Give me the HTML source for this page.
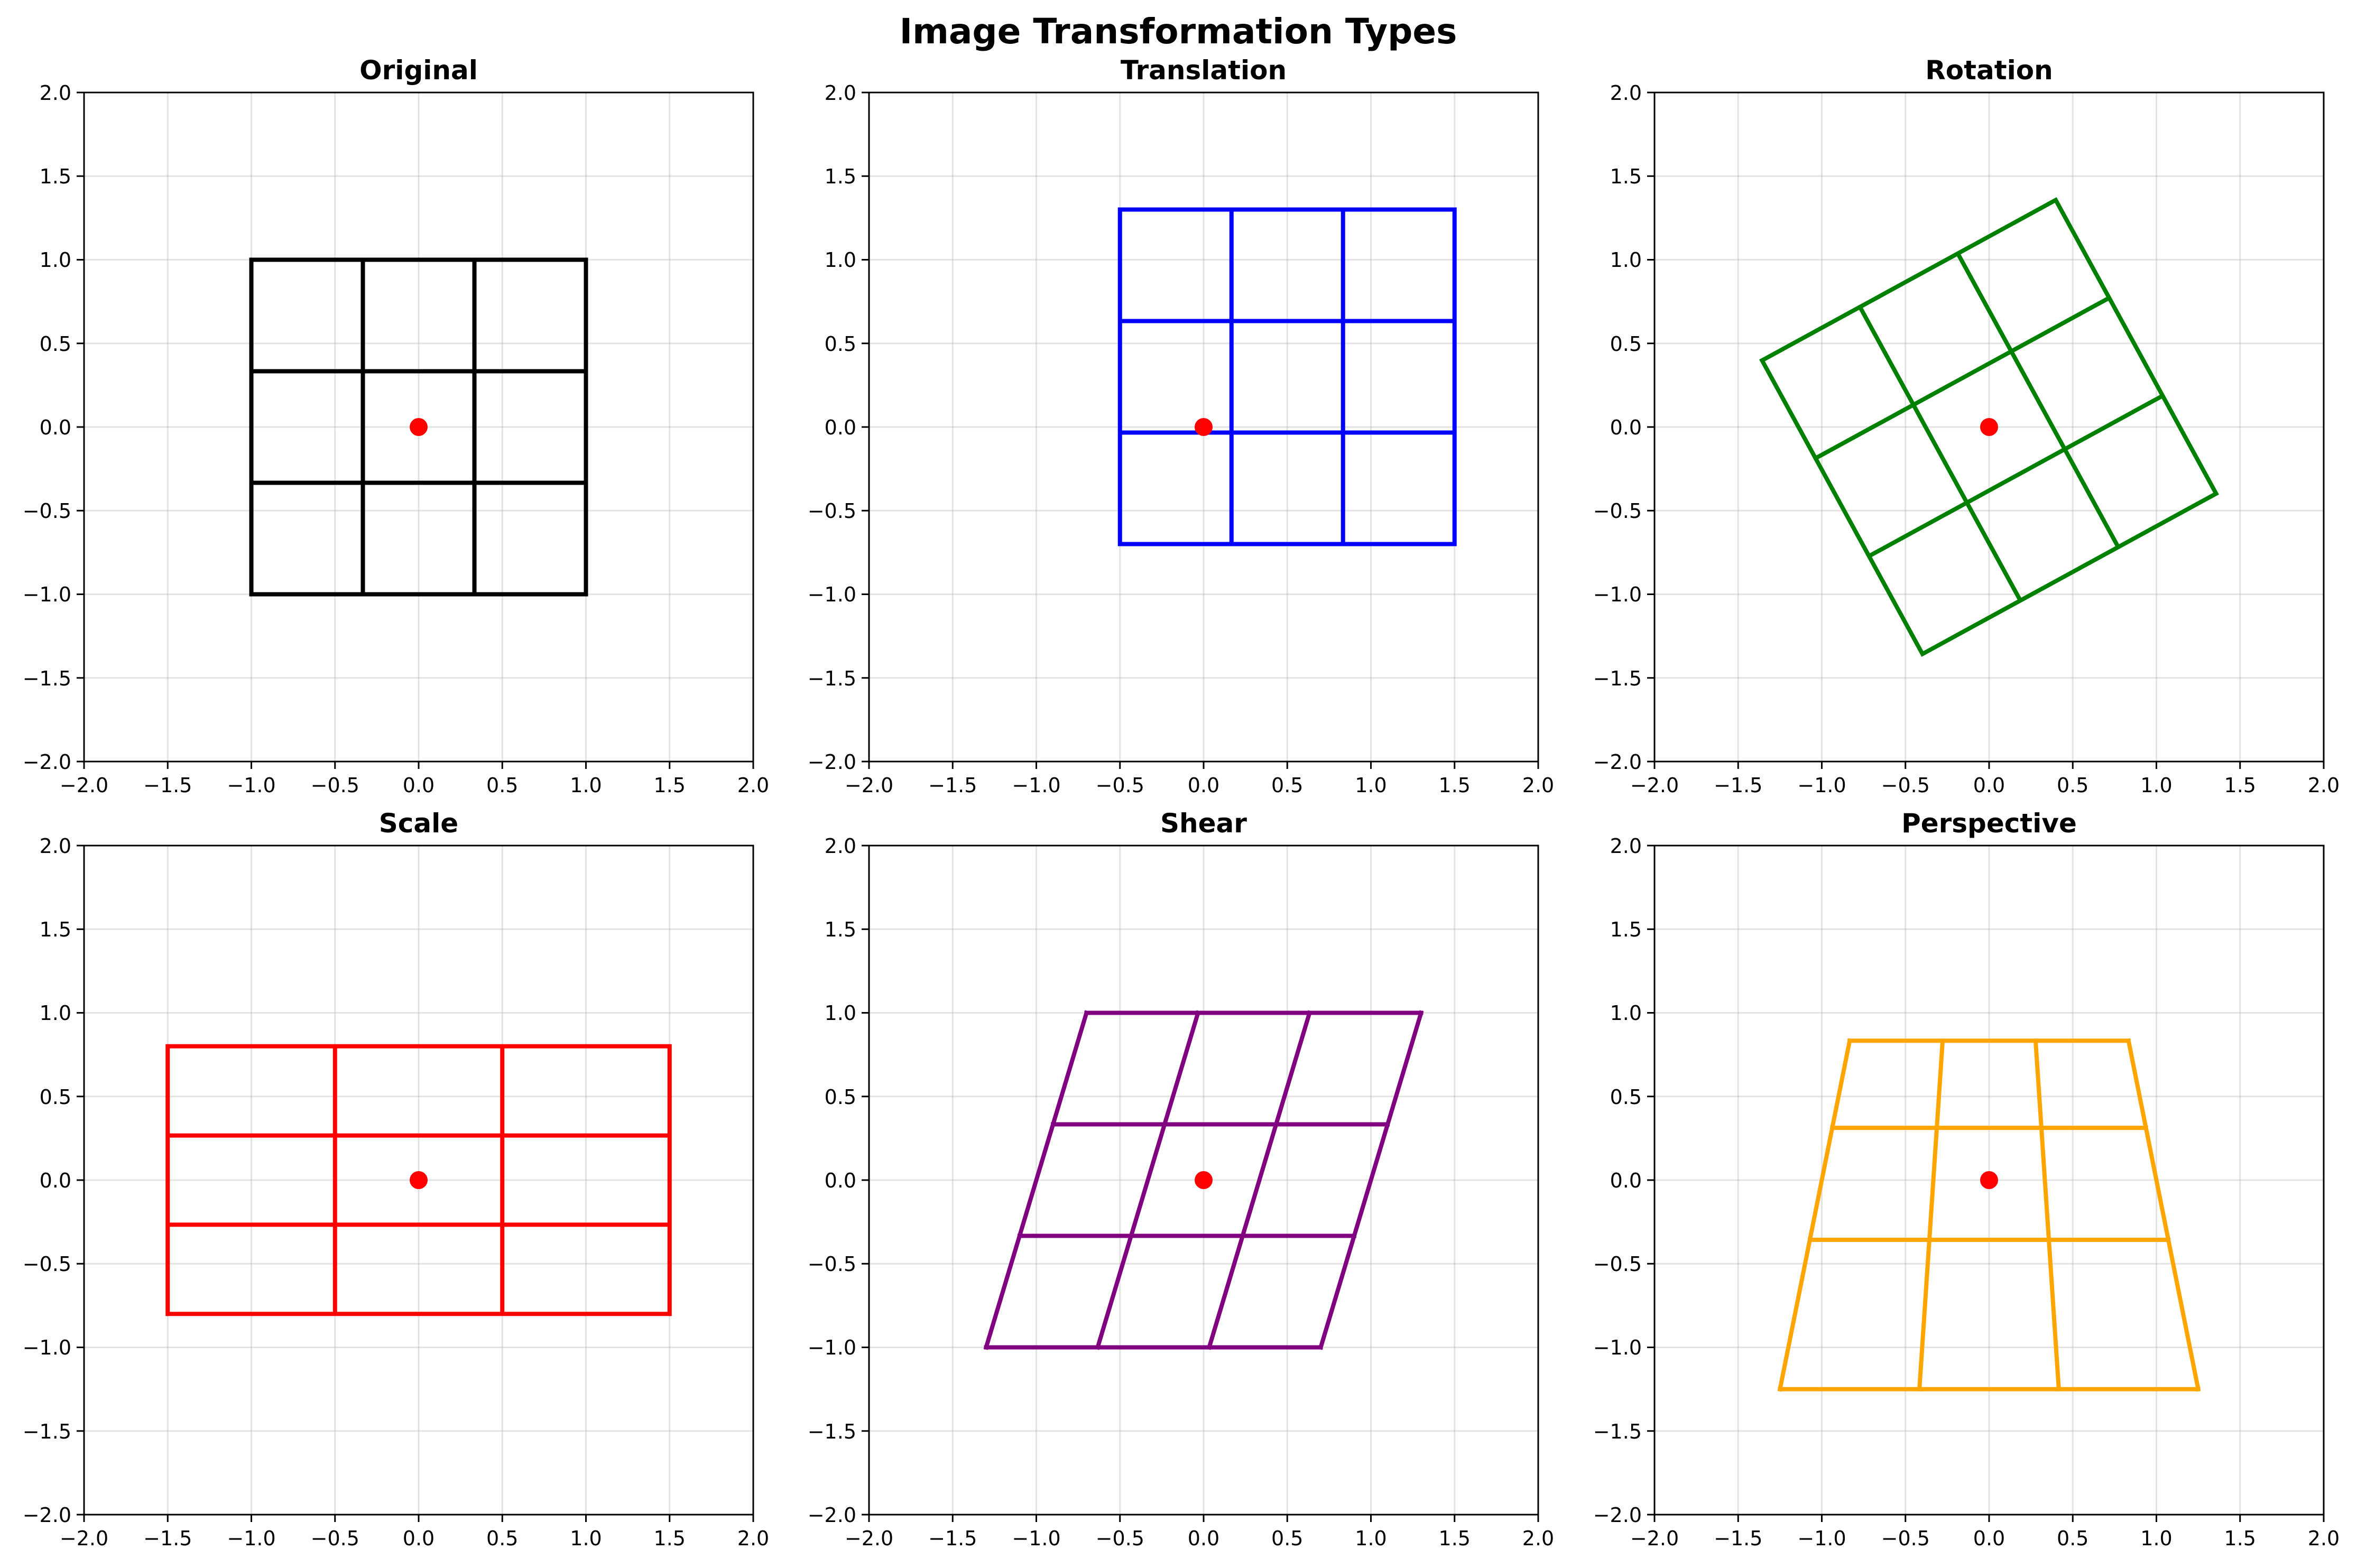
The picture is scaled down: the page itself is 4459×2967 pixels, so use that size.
<!DOCTYPE html>
<html><head><meta charset="utf-8"><style>
html,body{margin:0;padding:0;background:#fff;}
svg{display:block;}
text{font-family:"DejaVu Sans","Liberation Sans",sans-serif;fill:#000;}
.tk{font-size:38px;}
.tx{text-anchor:middle;}
.ty{text-anchor:end;}
.ti{font-size:50px;font-weight:bold;text-anchor:middle;}
.g line{stroke:#b0b0b0;stroke-opacity:0.35;stroke-width:3;}
.tm line{stroke:#000;stroke-width:3;}
.d path{fill:none;stroke-width:8;stroke-linecap:square;stroke-linejoin:round;vector-effect:non-scaling-stroke;}
</style></head><body>
<svg width="4459" height="2967" viewBox="0 0 4459 2967" xmlns="http://www.w3.org/2000/svg">
<defs>
<g id="grid" class="g">
<line x1="158.25" y1="0" x2="158.25" y2="1266"/><line x1="316.5" y1="0" x2="316.5" y2="1266"/><line x1="474.75" y1="0" x2="474.75" y2="1266"/><line x1="633" y1="0" x2="633" y2="1266"/><line x1="791.25" y1="0" x2="791.25" y2="1266"/><line x1="949.5" y1="0" x2="949.5" y2="1266"/><line x1="1107.75" y1="0" x2="1107.75" y2="1266"/>
<line y1="158.25" x1="0" y2="158.25" x2="1266"/><line y1="316.5" x1="0" y2="316.5" x2="1266"/><line y1="474.75" x1="0" y2="474.75" x2="1266"/><line y1="633" x1="0" y2="633" x2="1266"/><line y1="791.25" x1="0" y2="791.25" x2="1266"/><line y1="949.5" x1="0" y2="949.5" x2="1266"/><line y1="1107.75" x1="0" y2="1107.75" x2="1266"/>
</g>
<g id="ticks" class="tm">
<line x1="0" y1="1266" x2="0" y2="1280"/><line x1="158.25" y1="1266" x2="158.25" y2="1280"/><line x1="316.5" y1="1266" x2="316.5" y2="1280"/><line x1="474.75" y1="1266" x2="474.75" y2="1280"/><line x1="633" y1="1266" x2="633" y2="1280"/><line x1="791.25" y1="1266" x2="791.25" y2="1280"/><line x1="949.5" y1="1266" x2="949.5" y2="1280"/><line x1="1107.75" y1="1266" x2="1107.75" y2="1280"/><line x1="1266" y1="1266" x2="1266" y2="1280"/>
<line y1="0" x1="-14" y2="0" x2="0"/><line y1="158.25" x1="-14" y2="158.25" x2="0"/><line y1="316.5" x1="-14" y2="316.5" x2="0"/><line y1="474.75" x1="-14" y2="474.75" x2="0"/><line y1="633" x1="-14" y2="633" x2="0"/><line y1="791.25" x1="-14" y2="791.25" x2="0"/><line y1="949.5" x1="-14" y2="949.5" x2="0"/><line y1="1107.75" x1="-14" y2="1107.75" x2="0"/><line y1="1266" x1="-14" y2="1266" x2="0"/>
<rect x="0" y="0" width="1266" height="1266" fill="none" stroke="#000" stroke-width="3"/>
</g>
</defs>

<text x="2229" y="82" style="font-size:66px;font-weight:bold;text-anchor:middle;">Image Transformation Types</text>

<g transform="translate(159,175)">
<use href="#grid"/>
<g class="d" transform="translate(633,633) scale(316.5,-316.5)"><path stroke="#000" d="M-1 -1V1M-0.3333 -1V1M0.3333 -1V1M1 -1V1M-1 -1H1M-1 -0.3333H1M-1 0.3333H1M-1 1H1"/></g>
<circle cx="633" cy="633" r="17" fill="#ff0000"/>
<use href="#ticks"/>
<text class="ti" x="633" y="-25">Original</text>
<g class="tk tx"><text x="0" y="1324">−2.0</text><text x="158.25" y="1324">−1.5</text><text x="316.5" y="1324">−1.0</text><text x="474.75" y="1324">−0.5</text><text x="633" y="1324">0.0</text><text x="791.25" y="1324">0.5</text><text x="949.5" y="1324">1.0</text><text x="1107.75" y="1324">1.5</text><text x="1266" y="1324">2.0</text></g>
<g class="tk ty"><text x="-24" y="14">2.0</text><text x="-24" y="172">1.5</text><text x="-24" y="330">1.0</text><text x="-24" y="489">0.5</text><text x="-24" y="647">0.0</text><text x="-24" y="805">−0.5</text><text x="-24" y="963">−1.0</text><text x="-24" y="1122">−1.5</text><text x="-24" y="1280">−2.0</text></g>
</g>

<g transform="translate(1644,175)">
<use href="#grid"/>
<g class="d" transform="translate(633,633) scale(316.5,-316.5) translate(0.5,0.3)"><path stroke="#0000ff" d="M-1 -1V1M-0.3333 -1V1M0.3333 -1V1M1 -1V1M-1 -1H1M-1 -0.3333H1M-1 0.3333H1M-1 1H1"/></g>
<circle cx="633" cy="633" r="17" fill="#ff0000"/>
<use href="#ticks"/>
<text class="ti" x="633" y="-25">Translation</text>
<g class="tk tx"><text x="0" y="1324">−2.0</text><text x="158.25" y="1324">−1.5</text><text x="316.5" y="1324">−1.0</text><text x="474.75" y="1324">−0.5</text><text x="633" y="1324">0.0</text><text x="791.25" y="1324">0.5</text><text x="949.5" y="1324">1.0</text><text x="1107.75" y="1324">1.5</text><text x="1266" y="1324">2.0</text></g>
<g class="tk ty"><text x="-24" y="14">2.0</text><text x="-24" y="172">1.5</text><text x="-24" y="330">1.0</text><text x="-24" y="489">0.5</text><text x="-24" y="647">0.0</text><text x="-24" y="805">−0.5</text><text x="-24" y="963">−1.0</text><text x="-24" y="1122">−1.5</text><text x="-24" y="1280">−2.0</text></g>
</g>

<g transform="translate(3130,175)">
<use href="#grid"/>
<g class="d" transform="translate(633,633) scale(316.5,-316.5) rotate(28.648)"><path stroke="#008000" d="M-1 -1V1M-0.3333 -1V1M0.3333 -1V1M1 -1V1M-1 -1H1M-1 -0.3333H1M-1 0.3333H1M-1 1H1"/></g>
<circle cx="633" cy="633" r="17" fill="#ff0000"/>
<use href="#ticks"/>
<text class="ti" x="633" y="-25">Rotation</text>
<g class="tk tx"><text x="0" y="1324">−2.0</text><text x="158.25" y="1324">−1.5</text><text x="316.5" y="1324">−1.0</text><text x="474.75" y="1324">−0.5</text><text x="633" y="1324">0.0</text><text x="791.25" y="1324">0.5</text><text x="949.5" y="1324">1.0</text><text x="1107.75" y="1324">1.5</text><text x="1266" y="1324">2.0</text></g>
<g class="tk ty"><text x="-24" y="14">2.0</text><text x="-24" y="172">1.5</text><text x="-24" y="330">1.0</text><text x="-24" y="489">0.5</text><text x="-24" y="647">0.0</text><text x="-24" y="805">−0.5</text><text x="-24" y="963">−1.0</text><text x="-24" y="1122">−1.5</text><text x="-24" y="1280">−2.0</text></g>
</g>

<g transform="translate(159,1600)">
<use href="#grid"/>
<g class="d" transform="translate(633,633) scale(316.5,-316.5) scale(1.5,0.8)"><path stroke="#ff0000" d="M-1 -1V1M-0.3333 -1V1M0.3333 -1V1M1 -1V1M-1 -1H1M-1 -0.3333H1M-1 0.3333H1M-1 1H1"/></g>
<circle cx="633" cy="633" r="17" fill="#ff0000"/>
<use href="#ticks"/>
<text class="ti" x="633" y="-25">Scale</text>
<g class="tk tx"><text x="0" y="1324">−2.0</text><text x="158.25" y="1324">−1.5</text><text x="316.5" y="1324">−1.0</text><text x="474.75" y="1324">−0.5</text><text x="633" y="1324">0.0</text><text x="791.25" y="1324">0.5</text><text x="949.5" y="1324">1.0</text><text x="1107.75" y="1324">1.5</text><text x="1266" y="1324">2.0</text></g>
<g class="tk ty"><text x="-24" y="14">2.0</text><text x="-24" y="172">1.5</text><text x="-24" y="330">1.0</text><text x="-24" y="489">0.5</text><text x="-24" y="647">0.0</text><text x="-24" y="805">−0.5</text><text x="-24" y="963">−1.0</text><text x="-24" y="1122">−1.5</text><text x="-24" y="1280">−2.0</text></g>
</g>

<g transform="translate(1644,1600)">
<use href="#grid"/>
<g class="d" transform="translate(633,633) scale(316.5,-316.5) matrix(1,0,0.3,1,0,0)"><path stroke="#800080" d="M-1 -1V1M-0.3333 -1V1M0.3333 -1V1M1 -1V1M-1 -1H1M-1 -0.3333H1M-1 0.3333H1M-1 1H1"/></g>
<circle cx="633" cy="633" r="17" fill="#ff0000"/>
<use href="#ticks"/>
<text class="ti" x="633" y="-25">Shear</text>
<g class="tk tx"><text x="0" y="1324">−2.0</text><text x="158.25" y="1324">−1.5</text><text x="316.5" y="1324">−1.0</text><text x="474.75" y="1324">−0.5</text><text x="633" y="1324">0.0</text><text x="791.25" y="1324">0.5</text><text x="949.5" y="1324">1.0</text><text x="1107.75" y="1324">1.5</text><text x="1266" y="1324">2.0</text></g>
<g class="tk ty"><text x="-24" y="14">2.0</text><text x="-24" y="172">1.5</text><text x="-24" y="330">1.0</text><text x="-24" y="489">0.5</text><text x="-24" y="647">0.0</text><text x="-24" y="805">−0.5</text><text x="-24" y="963">−1.0</text><text x="-24" y="1122">−1.5</text><text x="-24" y="1280">−2.0</text></g>
</g>

<g transform="translate(3130,1600)">
<use href="#grid"/>
<g class="d" transform="translate(633,633) scale(316.5,-316.5)"><path stroke="#ffa500" d="M-1.25 -1.25L-0.8333 0.8333M-0.4167 -1.25L-0.2778 0.8333M0.4167 -1.25L0.2778 0.8333M1.25 -1.25L0.8333 0.8333M-1.25 -1.25H1.25M-1.0714 -0.3571H1.0714M-0.9375 0.3125H0.9375M-0.8333 0.8333H0.8333"/></g>
<circle cx="633" cy="633" r="17" fill="#ff0000"/>
<use href="#ticks"/>
<text class="ti" x="633" y="-25">Perspective</text>
<g class="tk tx"><text x="0" y="1324">−2.0</text><text x="158.25" y="1324">−1.5</text><text x="316.5" y="1324">−1.0</text><text x="474.75" y="1324">−0.5</text><text x="633" y="1324">0.0</text><text x="791.25" y="1324">0.5</text><text x="949.5" y="1324">1.0</text><text x="1107.75" y="1324">1.5</text><text x="1266" y="1324">2.0</text></g>
<g class="tk ty"><text x="-24" y="14">2.0</text><text x="-24" y="172">1.5</text><text x="-24" y="330">1.0</text><text x="-24" y="489">0.5</text><text x="-24" y="647">0.0</text><text x="-24" y="805">−0.5</text><text x="-24" y="963">−1.0</text><text x="-24" y="1122">−1.5</text><text x="-24" y="1280">−2.0</text></g>
</g>
</svg>
</body></html>
